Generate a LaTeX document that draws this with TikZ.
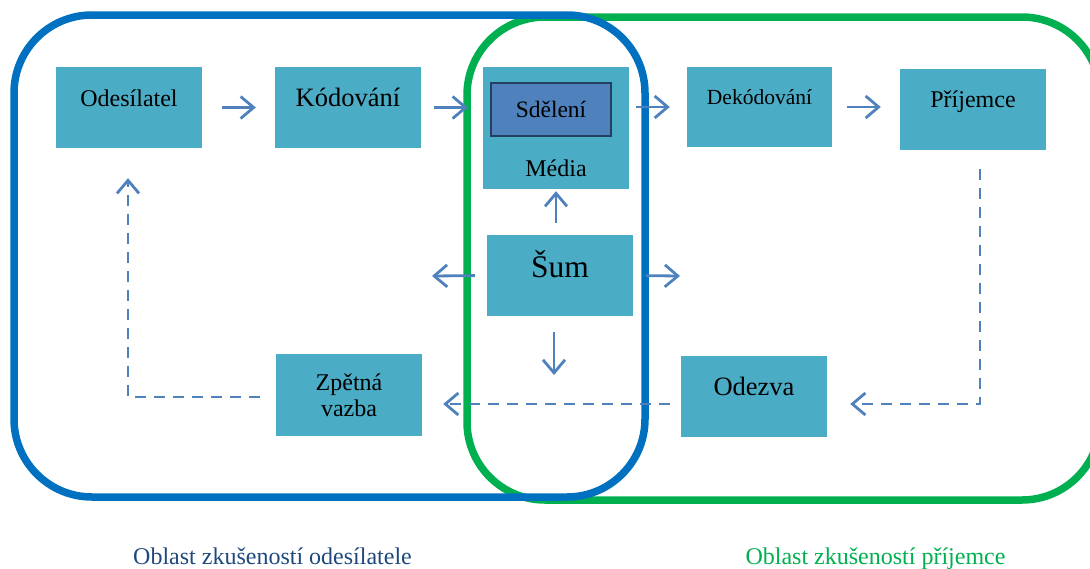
\documentclass[tikz,border=0pt]{standalone}
\usepackage{fontspec}
\setmainfont{Liberation Serif}
\usetikzlibrary{arrows.meta}

\definecolor{boxfill}{HTML}{4BACC6}
\definecolor{msgfill}{HTML}{4F81BD}
\definecolor{msgline}{HTML}{243F60}
\definecolor{arrowblue}{HTML}{4F81BD}
\definecolor{sendblue}{HTML}{0070C0}
\definecolor{recvgreen}{HTML}{00B050}
\definecolor{labelblue}{HTML}{1F497D}

\tikzset{
  box/.style={fill=boxfill, minimum width=146pt, minimum height=81pt, inner sep=0pt, font=\fontsize{24}{26}\selectfont},
  arr/.style={draw=arrowblue, line width=2.8pt, -{Straight Barb[length=13pt,width=22pt]}},
  fb/.style={arr, dash pattern=on 11pt off 8pt},
  area/.style={line width=7.5pt, rounded corners=78pt},
}

\begin{document}
\begin{tikzpicture}[x=1pt, y=-1pt]
\useasboundingbox (0,0) rectangle (1090,568);
\clip (0,0) rectangle (1090,568);

% areas of experience
\draw[area, recvgreen] (467,17) rectangle (1100,500);
\draw[area, sendblue] (14,15) rectangle (645,497);

% boxes
\node[box, text height=16pt, text depth=19pt] (ode) at (129,107.5) {Odesílatel};
\node[box, text height=17pt, text depth=19pt, font=\fontsize{26.5}{28}\selectfont] (kod) at (348,107.5) {Kódování};
\node[box, minimum height=122pt, text height=101pt, text depth=5pt] (med) at (556,128) {Média};
\node[fill=msgfill, draw=msgline, line width=2pt, minimum width=120pt, minimum height=53pt, inner sep=0pt,
      text height=17pt, text depth=2pt, font=\fontsize{23.5}{26}\selectfont] (sdl) at (551,109.5) {Sdělení};
\node[box, minimum width=145pt, minimum height=80pt, text height=14pt, text depth=20pt, font=\fontsize{21.5}{24}\selectfont] (dek) at (759.5,107) {Dekódování};
\node[box, text height=16pt, text depth=20pt] (pri) at (973,109) {Příjemce};
\node[box, text height=22pt, text depth=19pt, font=\fontsize{31.5}{34}\selectfont] (sum) at (560,275.5) {Šum};
\node[box, minimum height=82pt, align=center] (zpv) at (349,395) {Zpětná\\vazba};
\node[box, text height=17pt, text depth=20pt, font=\fontsize{26.5}{28}\selectfont] (odz) at (754,396.5) {Odezva};

% main line
\draw[arr, shorten <=20pt, shorten >=19pt] (ode) -- (kod);
\draw[arr, shorten <=13pt, shorten >=15pt] (kod) -- (kod -| med.west);
\draw[arr, shorten <=7pt, shorten >=17pt] (dek -| med.east) -- (dek);
\draw[arr, shorten <=15pt, shorten >=19pt] (dek) -- (dek -| pri.west);

% noise
\coordinate (sumL) at (432,276);
\coordinate (sumR) at (680,276);
\coordinate (sumD) at (554,375);
\draw[arr, shorten <=12pt, shorten >=2pt] (med.south |- sum.north) -- (med.south);
\draw[arr, shorten <=12pt] (sum.west) -- (sumL);
\draw[arr, shorten <=13pt] (sum.east) -- (sumR);
\draw[arr, shorten <=16pt] (sum.south -| sumD) -- (sumD);

% feedback
\coordinate (turnR) at (980,404);
\coordinate (turnL) at (128,397);
\draw[fb, shorten <=19pt, shorten >=23pt] (pri.south -| turnR) -- (turnR) -- (turnR -| odz.east);
\draw[fb, shorten <=11pt, shorten >=21pt] (turnR -| odz.west) -- (turnR -| zpv.east);
\draw[fb, shorten <=16pt, shorten >=30pt] (zpv.west |- turnL) -- (turnL) -- (turnL |- ode.south);

% captions
\node[anchor=base, text=labelblue, font=\fontsize{24}{26}\selectfont] (capS) at (272.5,564) {Oblast zkušeností odesílatele};
\node[anchor=base, text=recvgreen, font=\fontsize{24}{26}\selectfont] (capR) at (875.5,564) {Oblast zkušeností příjemce};
\end{tikzpicture}
\end{document}
